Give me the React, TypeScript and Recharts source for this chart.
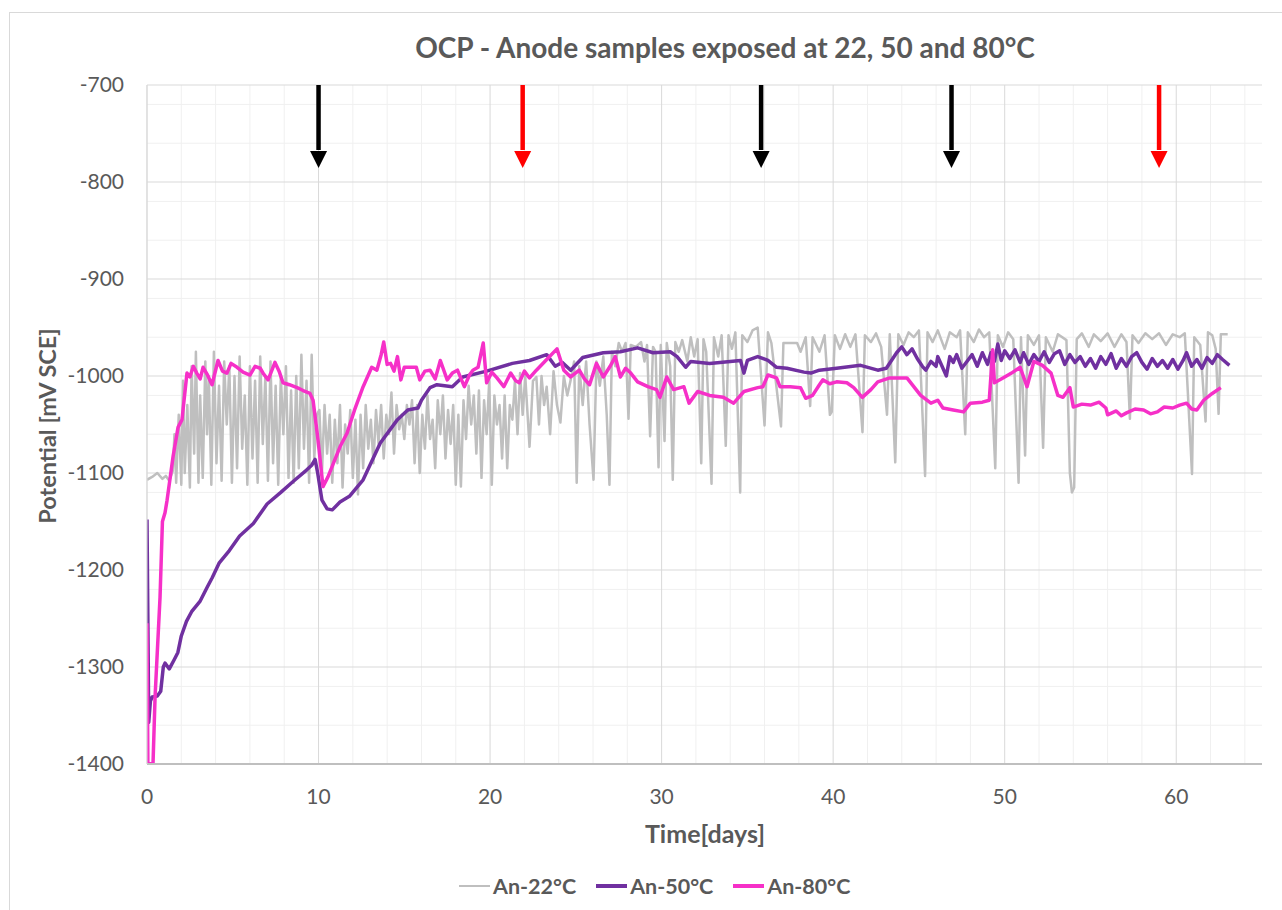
import React from "react";
import {
  LineChart,
  Line,
  XAxis,
  YAxis,
  CartesianGrid,
  ReferenceLine,
  ReferenceDot
} from "recharts";

// [day, mV SCE]
const an22: [number, number][] = [
  [0, -1107], [0.3, -1104], [0.6, -1100], [0.9, -1106], [1.1, -1103], [1.3, -1108], [1.5, -1098],
  [1.6, -1060], [1.7, -1110], [1.85, -1040], [2.0, -1112], [2.1, -1005], [2.2, -1100], [2.35, -1030],
  [2.5, -1115], [2.6, -990], [2.75, -1080], [2.85, -975], [3.0, -1110], [3.1, -1020], [3.25, -1105],
  [3.4, -985], [3.5, -1060], [3.6, -1000], [3.75, -1112], [3.9, -975], [4.05, -1090], [4.2, -1010],
  [4.35, -1108], [4.5, -985], [4.65, -1050], [4.8, -990], [4.95, -1110], [5.1, -1000], [5.25, -1095],
  [5.4, -980], [5.55, -1075], [5.7, -1020], [5.85, -1112], [6.0, -990], [6.15, -1085], [6.3, -1005],
  [6.45, -1110], [6.6, -980], [6.75, -1070], [6.9, -1000], [7.05, -1108], [7.2, -985], [7.35, -1090],
  [7.5, -1010], [7.65, -1112], [7.8, -1000], [7.95, -1060], [8.1, -990], [8.25, -1105], [8.4, -1015],
  [8.55, -1110], [8.7, -1000], [8.85, -1095], [9.0, -978], [9.15, -1075], [9.3, -1005], [9.45, -1110],
  [9.6, -978], [9.75, -1085], [9.9, -1040],
  [10.05, -1035], [10.2, -1100], [10.35, -1030], [10.5, -1080], [10.65, -1040], [10.8, -1110],
  [10.95, -1045], [11.1, -1090], [11.25, -1030], [11.4, -1115], [11.55, -1050], [11.7, -1080],
  [11.85, -1035], [12.0, -1105], [12.15, -1045], [12.3, -1122], [12.45, -1040], [12.6, -1095],
  [12.75, -1030], [12.9, -1075], [13.05, -1045], [13.2, -1090], [13.35, -1035], [13.5, -1070],
  [13.65, -1030], [13.8, -1085], [13.95, -1040], [14.1, -1060], [14.25, -1017], [14.4, -1080],
  [14.55, -1030], [14.7, -1055], [14.85, -1040], [15.0, -1065],
  [15.15, -1030], [15.3, -1050], [15.45, -1025], [15.6, -1090], [15.75, -1030], [15.9, -1100],
  [16.05, -1040], [16.2, -1075], [16.35, -1020], [16.5, -1065], [16.65, -1045], [16.8, -1095],
  [16.95, -1025], [17.1, -1060], [17.25, -1020], [17.4, -1085], [17.55, -1035], [17.7, -1070],
  [17.85, -1030], [18.0, -1112], [18.15, -1040], [18.3, -1114], [18.45, -1025], [18.6, -1065],
  [18.75, -1010], [18.9, -1050], [19.05, -1020], [19.2, -1080], [19.35, -1015], [19.5, -1105],
  [19.65, -1025], [19.8, -1060], [19.95, -1005], [20.1, -1112], [20.25, -1020], [20.4, -1050],
  [20.55, -1030], [20.7, -1085], [20.85, -1020], [21.0, -1095], [21.15, -1030], [21.3, -1045],
  [21.45, -1005], [21.6, -1060], [21.75, -997], [21.9, -1040], [22.05, -1000], [22.3, -1073],
  [22.5, -1005], [22.7, -1001], [22.85, -1050], [23.0, -1000], [23.15, -1030], [23.3, -1011],
  [23.5, -1060], [23.7, -995], [23.9, -1030], [24.1, -1048], [24.3, -1000], [24.5, -1020],
  [24.7, -1004], [24.9, -985], [25.05, -1110], [25.2, -990], [25.4, -1030], [25.6, -985],
  [25.8, -1050], [26.03, -1107], [26.2, -985], [26.4, -1010], [26.6, -980], [26.8, -1040],
  [26.96, -1112], [27.1, -975], [27.3, -990], [27.5, -966], [27.7, -975], [27.9, -966],
  [28.07, -1044], [28.2, -968], [28.5, -970], [28.8, -965], [29.0, -985], [29.15, -968],
  [29.33, -1062], [29.5, -970], [29.65, -975], [29.82, -1094], [29.95, -968], [30.17, -1067],
  [30.3, -966], [30.5, -990], [30.65, -1107], [30.8, -965], [31.0, -975], [31.2, -963],
  [31.5, -985], [31.7, -960], [31.9, -980], [32.1, -962], [32.31, -1090], [32.44, -962],
  [32.6, -975], [32.91, -1111], [33.05, -960], [33.3, -980], [33.5, -958], [33.74, -1072],
  [33.9, -958], [34.1, -972], [34.3, -955], [34.58, -1120], [34.7, -958], [35.0, -965],
  [35.3, -953], [35.6, -950], [36.0, -1051], [36.2, -955], [36.4, -966], [36.96, -1052],
  [37.1, -966], [37.9, -966], [38.1, -975], [38.4, -960], [38.66, -1031], [38.8, -960],
  [39.2, -975], [39.5, -958], [39.81, -1040], [39.92, -1037], [40.1, -958], [40.4, -972],
  [40.7, -957], [41.0, -970], [41.3, -957], [41.71, -1058], [41.85, -958], [42.2, -965],
  [42.5, -956], [42.8, -970], [43.14, -1040], [43.3, -957], [43.62, -1089], [43.8, -957],
  [44.1, -968], [44.4, -955], [44.7, -960], [45.0, -953], [45.36, -1103], [45.5, -955],
  [45.8, -965], [46.1, -953], [46.5, -972], [46.8, -955], [47.2, -960], [47.4, -953],
  [47.7, -1060], [47.85, -955], [48.2, -965], [48.5, -952], [48.8, -960], [49.1, -955],
  [49.45, -1095], [49.6, -958], [49.9, -970], [50.2, -955], [50.5, -962], [50.81, -1110],
  [50.95, -960], [51.19, -1082], [51.35, -958], [51.7, -968], [52.0, -958], [52.24, -1074],
  [52.4, -960], [52.8, -975], [53.1, -957], [53.6, -963], [53.8, -1100], [53.92, -1120],
  [54.05, -1115], [54.2, -962], [54.5, -956], [54.9, -970], [55.2, -957], [55.6, -964],
  [56.0, -956], [56.4, -970], [56.8, -957], [57.1, -965], [57.3, -1044], [57.45, -958],
  [57.8, -966], [58.2, -956], [58.6, -962], [59.0, -956], [59.4, -968], [59.8, -957],
  [60.2, -960], [60.5, -956], [60.92, -1101], [61.05, -960], [61.4, -968], [61.71, -1047],
  [61.85, -955], [62.1, -958], [62.3, -972], [62.47, -1039], [62.6, -957], [63.0, -957]
];

const an50: [number, number][] = [
  [0, -1148], [0.05, -1250], [0.1, -1357], [0.2, -1335], [0.3, -1331], [0.6, -1330], [0.8, -1325],
  [0.95, -1300], [1.05, -1296], [1.3, -1302], [1.6, -1292], [1.8, -1285], [2.0, -1268], [2.3, -1253],
  [2.6, -1243], [3.1, -1232], [3.5, -1218], [3.8, -1208], [4.2, -1193], [4.8, -1180], [5.4, -1165],
  [6.2, -1152], [7.0, -1132], [7.8, -1120], [8.5, -1109], [9.3, -1097], [9.6, -1092], [9.8, -1086],
  [9.95, -1100], [10.2, -1128], [10.5, -1137], [10.8, -1138], [11.25, -1130], [11.8, -1124],
  [12.6, -1107], [13.6, -1069], [14.6, -1045], [15.2, -1035], [15.8, -1033], [16.0, -1025],
  [16.5, -1012], [16.9, -1009], [17.8, -1011], [18.4, -1001], [19.8, -995], [21.3, -987],
  [22.3, -984], [23.3, -978], [23.8, -990], [24.2, -986], [24.7, -994], [25.4, -981], [26.6, -976],
  [27.6, -975], [28.6, -971], [29.5, -976], [30.5, -975], [30.9, -980], [31.4, -991], [31.7, -985],
  [32.8, -987], [34.0, -985], [34.6, -984], [34.8, -997], [35.0, -984], [35.6, -980], [36.2, -984],
  [36.7, -991], [37.3, -992], [38.3, -996], [38.7, -997], [39.2, -994], [40.2, -992], [41.6, -989],
  [42.6, -994], [43.1, -992],
  [43.7, -976], [44.0, -970], [44.3, -978], [44.6, -972], [44.9, -982], [45.2, -990], [45.4, -994],
  [45.7, -985], [46.0, -990], [46.1, -980], [46.4, -992], [46.6, -1000], [46.8, -980], [47.0, -986],
  [47.2, -978], [47.5, -992], [47.8, -985], [48.1, -978], [48.4, -990], [48.7, -976], [49.0, -988],
  [49.2, -976], [49.4, -985], [49.6, -967], [49.8, -984], [50.0, -974], [50.3, -982], [50.6, -973],
  [50.9, -986], [51.1, -976], [51.4, -988], [51.7, -978], [52.0, -985], [52.3, -975], [52.6, -986],
  [52.9, -977], [53.2, -974], [53.5, -988], [53.8, -978], [54.1, -986], [54.4, -980], [54.7, -990],
  [55.0, -982], [55.3, -992], [55.6, -980], [55.9, -988], [56.2, -977], [56.5, -992], [56.8, -982],
  [57.1, -990], [57.4, -980], [57.7, -976], [58.0, -986], [58.3, -993], [58.6, -982], [58.9, -990],
  [59.2, -984], [59.5, -992], [59.8, -983], [60.1, -993], [60.4, -984], [60.6, -976], [60.9, -990],
  [61.2, -983], [61.5, -992], [61.8, -981], [62.1, -987], [62.4, -978], [62.7, -983], [63.1, -989]
];

const an80: [number, number][] = [
  [0, -1255], [0.05, -1399], [0.35, -1400], [0.47, -1331], [0.76, -1228], [0.9, -1150], [1.05, -1141],
  [1.17, -1128], [1.52, -1083], [1.81, -1053], [2.04, -1045], [2.33, -997], [2.5, -1001], [2.7, -990],
  [2.9, -997], [3.1, -1003], [3.27, -991], [3.5, -998], [3.79, -1009], [4.14, -984], [4.4, -995],
  [4.66, -997], [4.9, -987], [5.25, -991], [5.6, -996], [6.0, -999], [6.3, -990], [6.6, -992],
  [6.8, -998], [7.06, -1004], [7.46, -986], [7.7, -995], [7.93, -1007], [8.3, -1009], [8.75, -1012],
  [9.1, -1015], [9.5, -1018], [9.68, -1025], [9.97, -1066], [10.26, -1114], [10.55, -1104],
  [11.25, -1073], [11.66, -1059], [12.1, -1035], [12.6, -1011], [13.1, -991], [13.4, -994],
  [13.65, -978], [13.8, -965], [14.0, -988], [14.2, -987], [14.4, -995], [14.6, -980], [14.8, -1004],
  [15.0, -991], [15.7, -991], [15.9, -1004], [16.2, -995], [16.5, -994], [16.8, -1003], [17.1, -984],
  [17.5, -1004], [17.8, -997], [18.1, -994], [18.5, -1011], [18.8, -999], [19.0, -994], [19.3, -991],
  [19.6, -966], [19.8, -1007], [20.1, -996], [20.4, -1002], [20.8, -1011], [21.2, -997], [21.5, -1005],
  [21.7, -1007], [22.0, -995], [22.3, -1002], [22.7, -994], [23.3, -983], [23.9, -972], [24.3, -994],
  [24.7, -1001], [25.2, -994], [25.5, -1003], [25.8, -1009], [26.2, -987], [26.6, -1001], [27.0, -990],
  [27.3, -980], [27.6, -1001], [27.9, -992], [28.2, -997], [28.6, -1006], [29.2, -1011], [29.7, -1014],
  [29.9, -1022], [30.3, -1001], [30.7, -1014], [31.3, -1011], [31.6, -1028], [32.1, -1016],
  [32.8, -1020], [33.6, -1022], [34.2, -1028], [34.8, -1016], [35.6, -1012], [35.9, -1011],
  [36.2, -999], [36.7, -1002], [36.9, -1011], [37.5, -1011], [38.1, -1012], [38.4, -1023],
  [38.8, -1020], [39.2, -1009], [39.4, -1004], [39.8, -1008], [40.2, -1006], [40.8, -1007],
  [41.2, -1012], [41.7, -1022], [42.2, -1014], [42.6, -1006], [43.3, -1002], [44.3, -1002],
  [44.7, -1011], [45.1, -1020], [45.7, -1028], [46.1, -1025], [46.4, -1033], [47.0, -1035],
  [47.6, -1037], [48.0, -1028], [48.7, -1027], [49.1, -1025], [49.3, -973], [49.4, -1007],
  [49.9, -1002], [50.4, -997], [50.9, -991], [51.3, -1011], [51.7, -985], [52.2, -989], [52.7, -997],
  [53.1, -1020], [53.4, -1022], [53.8, -1012], [54.0, -1032], [54.5, -1029], [55.0, -1030],
  [55.5, -1027], [55.9, -1033], [56.0, -1040], [56.5, -1036], [56.8, -1041], [57.1, -1038],
  [57.6, -1034], [58.1, -1035], [58.5, -1039], [58.9, -1037], [59.3, -1032], [59.8, -1033],
  [60.2, -1030], [60.6, -1028], [60.9, -1034], [61.2, -1035], [61.6, -1025], [62.1, -1018],
  [62.6, -1012]
];

const xTicks = [0, 10, 20, 30, 40, 50, 60];
const yTicks = [-1400, -1300, -1200, -1100, -1000, -900, -800, -700];
const xMinor = [2, 4, 6, 8, 12, 14, 16, 18, 22, 24, 26, 28, 32, 34, 36, 38, 42, 44, 46, 48, 52, 54, 56, 58, 62, 64];
const yMinor = [
  -1380, -1360, -1340, -1320, -1280, -1260, -1240, -1220, -1180, -1160, -1140, -1120,
  -1080, -1060, -1040, -1020, -980, -960, -940, -920, -880, -860, -840, -820, -780, -760, -740, -720
];

// sampling-event arrows along the top of the plot
const arrowDays = [10.0, 21.9, 35.8, 46.9, 59.0];
const arrowColors = ["#000000", "#ff0000", "#000000", "#000000", "#ff0000"];
const arrowTop = -700;
const arrowHead = -768;

const series = [
  { name: "An-22°C", data: an22, color: "#bfbfbf", width: 2.5 },
  { name: "An-50°C", data: an50, color: "#7030a0", width: 3.5 },
  { name: "An-80°C", data: an80, color: "#f630c8", width: 3.5 }
];

const toRows = (pts: [number, number][]) => pts.map(([day, mv]) => ({ day, mv }));

const ArrowHead = (props: any) => {
  const { cx, cy, fill } = props;
  return <polygon points={`${cx - 8.5},${cy} ${cx + 8.5},${cy} ${cx},${cy + 17}`} fill={fill} />;
};

export default function App() {
  const text = "#595959";
  return (
    <div
      style={{
        position: "absolute",
        left: 0,
        top: 0,
        width: 1282,
        height: 910,
        overflow: "hidden",
        background: "#fff",
        fontFamily: "Lato, 'Open Sans', sans-serif"
      }}
    >
      <div
        style={{
          position: "absolute",
          left: 9,
          top: 12,
          width: 1290,
          height: 920,
          border: "1px solid #d9d9d9"
        }}
      />
      <div
        style={{
          position: "absolute",
          left: 0,
          top: 30,
          width: 1450,
          textAlign: "center",
          fontSize: 28,
          fontWeight: 700,
          color: text
        }}
      >
        OCP - Anode samples exposed at 22, 50 and 80°C
      </div>

      <div style={{ position: "absolute", left: 0, top: 0 }}>
        <LineChart width={1282} height={910} margin={{ top: 85, right: 20, left: 67, bottom: 116 }}>
          <CartesianGrid
            stroke="#f0f0f0"
            strokeWidth={1}
            horizontalValues={yMinor}
            verticalValues={xMinor}
          />
          <CartesianGrid
            stroke="#d9d9d9"
            strokeWidth={1}
            horizontalValues={yTicks}
            verticalValues={xTicks}
          />
          <XAxis
            type="number"
            dataKey="day"
            domain={[0, 65]}
            ticks={xTicks}
            allowDataOverflow
            height={30}
            tickLine={false}
            tickMargin={19}
            axisLine={{ stroke: "#bfbfbf", strokeWidth: 2 }}
            tick={{ fill: text, fontSize: 21 }}
          />
          <YAxis
            type="number"
            domain={[-1400, -700]}
            ticks={yTicks}
            allowDataOverflow
            width={80}
            tickLine={false}
            tickMargin={17}
            axisLine={{ stroke: "#d9d9d9" }}
            tick={{ fill: text, fontSize: 21 }}
          />
          {series.map(s => (
            <Line
              key={s.name}
              data={toRows(s.data)}
              dataKey="mv"
              name={s.name}
              type="linear"
              stroke={s.color}
              strokeWidth={s.width}
              strokeLinejoin="round"
              dot={false}
              activeDot={false}
              isAnimationActive={false}
            />
          ))}
          {arrowDays.map((d, i) => (
            <ReferenceLine
              key={"shaft" + i}
              segment={[{ x: d, y: arrowTop }, { x: d, y: arrowHead + 1 }]}
              stroke={arrowColors[i]}
              strokeWidth={4.5}
            />
          ))}
          {arrowDays.map((d, i) => (
            <ReferenceDot
              key={"head" + i}
              x={d}
              y={arrowHead}
              r={1}
              fill={arrowColors[i]}
              stroke="none"
              shape={<ArrowHead />}
            />
          ))}
        </LineChart>
      </div>

      <div
        style={{
          position: "absolute",
          left: 47,
          top: 426,
          transform: "translate(-50%, -50%) rotate(-90deg)",
          whiteSpace: "nowrap",
          fontSize: 23.5,
          fontWeight: 700,
          color: text
        }}
      >
        Potential [mV SCE]
      </div>
      <div
        style={{
          position: "absolute",
          left: 705,
          top: 833,
          transform: "translate(-50%, -50%)",
          whiteSpace: "nowrap",
          fontSize: 25,
          fontWeight: 700,
          color: text
        }}
      >
        Time[days]
      </div>

      <div
        style={{
          position: "absolute",
          left: 459,
          top: 873,
          display: "flex",
          alignItems: "center",
          gap: 20,
          fontSize: 21.5,
          fontWeight: 700,
          color: text
        }}
      >
        {series.map(s => (
          <div key={s.name} style={{ display: "flex", alignItems: "center" }}>
            <div style={{ width: 31, height: s.width, background: s.color, marginRight: 3 }} />
            <span>{s.name}</span>
          </div>
        ))}
      </div>
    </div>
  );
}
